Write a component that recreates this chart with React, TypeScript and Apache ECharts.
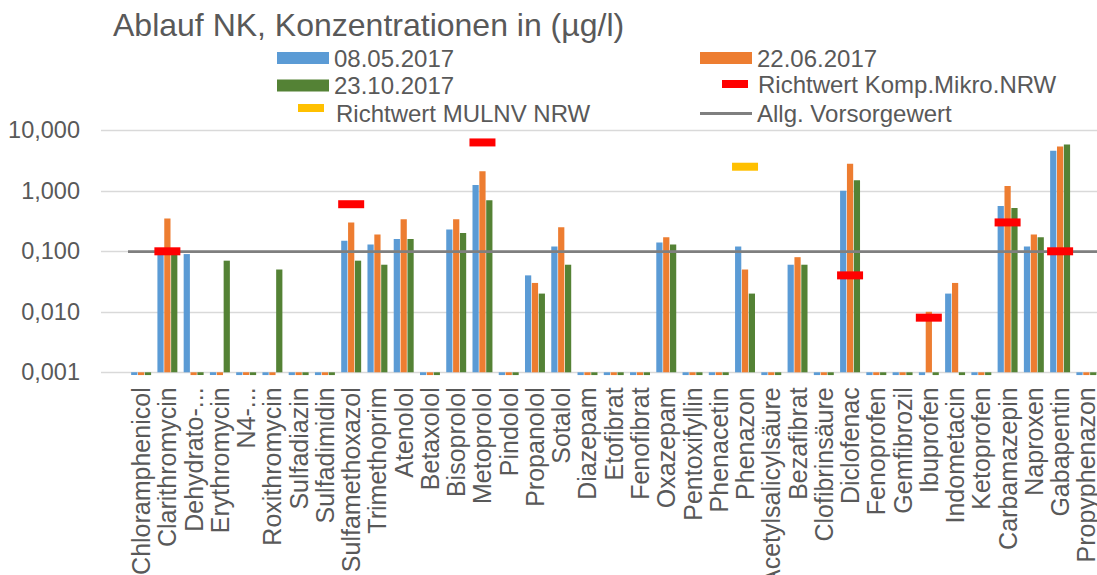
import React, { useEffect, useRef } from "react";
import * as echarts from "echarts";

const TITLE = "Ablauf NK, Konzentrationen in (µg/l)";

const categories = [
  "Chloramphenicol", "Clarithromycin", "Dehydrato-...", "Erythromycin", "N4-...",
  "Roxithromycin", "Sulfadiazin", "Sulfadimidin", "Sulfamethoxazol", "Trimethoprim",
  "Atenolol", "Betaxolol", "Bisoprolol", "Metoprolol", "Pindolol", "Propanolol",
  "Sotalol", "Diazepam", "Etofibrat", "Fenofibrat", "Oxazepam", "Pentoxifyllin",
  "Phenacetin", "Phenazon", "Acetylsalicylsäure", "Bezafibrat", "Clofibrinsäure",
  "Diclofenac", "Fenoprofen", "Gemfibrozil", "Ibuprofen", "Indometacin", "Ketoprofen",
  "Carbamazepin", "Naproxen", "Gabapentin", "Propyphenazon",
];

// values below the axis minimum (0,001) = not detected, drawn as short stubs below the axis
const s20170508 = [
  0.0009, 0.1, 0.09, 0.0009, 0.0009, 0.0009, 0.0009, 0.0009, 0.15, 0.13,
  0.16, 0.0009, 0.23, 1.25, 0.0009, 0.04, 0.12, 0.0009, 0.0009, 0.0009,
  0.14, 0.0009, 0.0009, 0.12, 0.0009, 0.06, 0.0009, 1.0, 0.0009, 0.0009,
  0.0009, 0.02, 0.0009, 0.56, 0.12, 4.6, 0.0009,
];
const s20170622 = [
  0.0009, 0.35, 0.0009, 0.0009, 0.0009, 0.0009, 0.0009, 0.0009, 0.3, 0.19,
  0.34, 0.0009, 0.34, 2.1, 0.0009, 0.03, 0.25, 0.0009, 0.0009, 0.0009,
  0.17, 0.0009, 0.0009, 0.05, 0.0009, 0.08, 0.0009, 2.8, 0.0009, 0.0009,
  0.01, 0.03, 0.0009, 1.2, 0.19, 5.4, 0.0009,
];
const s20171023 = [
  0.0009, 0.1, 0.0009, 0.07, 0.0009, 0.05, 0.0009, 0.0009, 0.07, 0.06,
  0.16, 0.0009, 0.2, 0.7, 0.0009, 0.02, 0.06, 0.0009, 0.0009, 0.0009,
  0.13, 0.0009, 0.0009, 0.02, 0.0009, 0.06, 0.0009, 1.5, 0.0009, 0.0009,
  0.0009, 0.0009, 0.0009, 0.52, 0.17, 5.8, 0.0009,
];
const richtwertKomp = [
  null, 0.1, null, null, null, null, null, null, 0.6, null,
  null, null, null, 6.3, null, null, null, null, null, null,
  null, null, null, null, null, null, null, 0.04, null, null,
  0.008, null, null, 0.3, null, 0.1, null,
];
const richtwertMulnv = [
  null, null, null, null, null, null, null, null, null, null,
  null, null, null, null, null, null, null, null, null, null,
  null, null, null, 2.5, null, null, null, null, null, null,
  null, null, null, null, null, null, null,
];
const vorsorgewert = 0.1;
const yTicks = [0.001, 0.01, 0.1, 1, 10];

const FONT = "'Liberation Sans', Arial, sans-serif";
const TXT = "#595959";
const C_BLUE = "#5B9BD5";
const C_ORANGE = "#ED7D31";
const C_GREEN = "#548235";
const C_RED = "#FF0000";
const C_YELLOW = "#FFC000";
const C_GRAY = "#7F7F7F";

const N_SER = ["08.05.2017", "22.06.2017", "23.10.2017", "Richtwert Komp.Mikro.NRW", "Richtwert MULNV NRW", "Allg. Vorsorgewert"];

export default function App() {
  const ref = useRef<HTMLDivElement>(null);
  useEffect(() => {
    if (!ref.current) return;
    const chart = echarts.init(ref.current, undefined, { renderer: "svg" });
    const legendText = { fontSize: 24, color: TXT, fontFamily: FONT };
    const leg = (o: any) => ({
      orient: "vertical",
      padding: 0,
      icon: "rect",
      textStyle: legendText,
      ...o,
    });
    const barBase = {
      type: "bar",
      xAxisIndex: 1,
      yAxisIndex: 1,
      barCategoryGap: "24%",
      barGap: "10%",
      clip: false,
    };
    chart.setOption({
      animation: false,
      textStyle: { fontFamily: FONT },
      title: {
        text: TITLE,
        left: 108,
        top: 4,
        textStyle: { fontSize: 32, fontWeight: "normal", color: TXT, fontFamily: FONT },
      },
      legend: [
        leg({ data: [N_SER[0]], left: 277, top: 46, itemWidth: 52, itemHeight: 12 }),
        leg({ data: [N_SER[2]], left: 277, top: 73.5, itemWidth: 52, itemHeight: 12 }),
        leg({ data: [N_SER[4]], left: 298, top: 104, itemWidth: 26, itemHeight: 8, formatter: () => "" }),
        leg({ data: [N_SER[4]], left: 330, top: 101, itemWidth: 1, itemHeight: 8, icon: "none" }),
        leg({ data: [N_SER[1]], left: 700, top: 46, itemWidth: 52, itemHeight: 12 }),
        leg({ data: [N_SER[3]], left: 722, top: 72, itemWidth: 26, itemHeight: 8, textStyle: { ...legendText, padding: [0, 0, 0, 5] } }),
        leg({ data: [N_SER[5]], left: 700, top: 101.5, itemWidth: 52, itemHeight: 3 }),
      ],
      grid: [
        { left: 101, right: 0, top: 130.3, height: 242, outerBoundsMode: "none", containLabel: false },
        { left: 128, width: 971.5, top: 130.3, height: 242, outerBoundsMode: "none", containLabel: false },
      ],
      xAxis: [
        { gridIndex: 0, type: "value", min: 0, max: 1, show: false },
        {
          gridIndex: 1,
          type: "category",
          data: categories,
          axisLine: { show: false },
          axisTick: { show: false },
          axisLabel: { rotate: 90, interval: 0, fontSize: 25, color: TXT, margin: 15, fontFamily: FONT },
        },
      ],
      yAxis: [
        {
          gridIndex: 0,
          type: "log",
          logBase: 10,
          min: yTicks[0],
          max: yTicks[yTicks.length - 1],
          axisLine: { show: false },
          axisTick: { show: false },
          splitLine: { show: true, lineStyle: { color: "#D9D9D9", width: 1.3 } },
          axisLabel: {
            fontSize: 23.5,
            color: TXT,
            margin: 21,
            fontFamily: FONT,
            formatter: (v: number) => v.toFixed(3).replace(".", ","),
          },
        },
        {
          gridIndex: 1,
          type: "log",
          logBase: 10,
          min: yTicks[0],
          max: yTicks[yTicks.length - 1],
          startValue: yTicks[0],
          show: false,
          splitLine: { show: false },
        },
      ],
      series: [
        { ...barBase, name: N_SER[0], data: s20170508, itemStyle: { color: C_BLUE } },
        { ...barBase, name: N_SER[1], data: s20170622, itemStyle: { color: C_ORANGE } },
        { ...barBase, name: N_SER[2], data: s20171023, itemStyle: { color: C_GREEN } },
        {
          type: "line",
          name: N_SER[5],
          xAxisIndex: 1,
          yAxisIndex: 1,
          data: [],
          color: C_GRAY,
          itemStyle: { color: C_GRAY },
          markLine: {
            silent: true,
            symbol: "none",
            label: { show: false },
            lineStyle: { color: C_GRAY, width: 2.75, type: "solid" },
            data: [{ yAxis: vorsorgewert }],
          },
          z: 3,
        },
        {
          type: "scatter",
          name: N_SER[3],
          xAxisIndex: 1,
          yAxisIndex: 1,
          data: richtwertKomp,
          symbol: "rect",
          symbolSize: [26, 8],
          itemStyle: { color: C_RED, opacity: 1 },
          z: 5,
        },
        {
          type: "scatter",
          name: N_SER[4],
          xAxisIndex: 1,
          yAxisIndex: 1,
          data: richtwertMulnv,
          symbol: "rect",
          symbolSize: [26, 8],
          itemStyle: { color: C_YELLOW, opacity: 1 },
          z: 5,
        },
      ],
    });
    return () => chart.dispose();
  }, []);
  return (
    <div
      ref={ref}
      style={{ position: "fixed", left: 0, top: 0, width: 1097, height: 575, background: "#fff" }}
    />
  );
}
